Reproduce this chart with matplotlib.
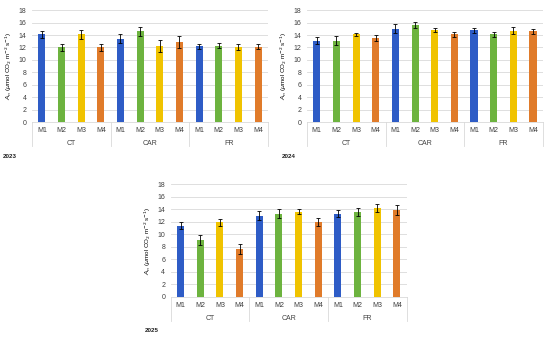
import numpy as np
import matplotlib
import matplotlib.pyplot as plt

matplotlib.use('Agg')

# Data
groups = ["CT", "CAR", "FR"]
methods = ["M1", "M2", "M3", "M4"]

an_2023 = [14.1, 12.0, 14.1, 12.0, 13.4, 14.6, 12.2, 12.9, 12.2, 12.3, 12.1, 12.1]
err_2023 = [0.6, 0.5, 0.7, 0.5, 0.7, 0.7, 1.0, 1.0, 0.4, 0.4, 0.5, 0.4]

an_2024 = [13.1, 13.1, 14.1, 13.5, 15.0, 15.6, 14.8, 14.1, 14.8, 14.1, 14.7, 14.6]
err_2024 = [0.6, 0.7, 0.3, 0.5, 0.7, 0.5, 0.3, 0.4, 0.4, 0.4, 0.6, 0.4]

an_2025 = [11.4, 9.1, 11.9, 7.7, 13.0, 13.3, 13.6, 12.0, 13.3, 13.6, 14.2, 13.9]
err_2025 = [0.5, 0.8, 0.6, 0.8, 0.7, 0.7, 0.4, 0.6, 0.6, 0.6, 0.7, 0.8]

colors = ["#2E5CC6", "#6DB33F", "#F0C300", "#E07B2A"]

plt.rcParams['font.family'] = ['Liberation Sans', 'DejaVu Sans']
plt.rcParams['mathtext.fontset'] = 'dejavusans'

fig = plt.figure(figsize=(5.5, 3.38), dpi=100)


def draw_panel(rect, vals, errs, year, year_xy):
    ax = fig.add_axes(rect)
    n = len(vals)
    x = np.arange(n)
    bar_cols = [colors[i % 4] for i in range(n)]
    ax.bar(x, vals, width=0.36, color=bar_cols, zorder=3)
    ax.errorbar(x, vals, yerr=errs, fmt='none', ecolor='black',
                elinewidth=0.6, capsize=1.2, capthick=0.6, zorder=4,
                clip_on=False)
    ax.set_xlim(-0.5, n - 0.5)
    ax.set_ylim(0, 18)
    ax.set_yticks(np.arange(0, 19, 2))
    ax.tick_params(axis='y', labelsize=5, length=0, pad=4, colors='#404040')
    ax.set_xticks([])
    ax.grid(axis='y', color='#D9D9D9', linewidth=0.6, zorder=0)
    for s in ['top', 'right', 'left']:
        ax.spines[s].set_visible(False)
    ax.spines['bottom'].set_color('#D9D9D9')
    ax.spines['bottom'].set_linewidth(0.6)
    ax.set_ylabel(r'$A_n$ ($\mu$mol CO$_2$ m$^{-2}$ s$^{-1}$)',
                  fontsize=4.5, labelpad=3)

    trans = ax.get_xaxis_transform()
    for i in range(n):
        ax.text(x[i], -0.075, methods[i % 4], transform=trans,
                ha='center', va='center', fontsize=5, color='#404040')
    for g, name in enumerate(groups):
        ax.text(g * 4 + 1.5, -0.19, name, transform=trans,
                ha='center', va='center', fontsize=5, color='#404040')
    for b in range(len(groups) + 1):
        ax.plot([b * 4 - 0.5, b * 4 - 0.5], [0, -0.215], transform=trans,
                color='#D9D9D9', linewidth=0.6, clip_on=False)
    fig.text(year_xy[0], year_xy[1], year, fontsize=4.5, fontweight='bold',
             ha='left', va='center', color='#202020')
    return ax


draw_panel([0.0582, 0.639, 0.429, 0.331], an_2023, err_2023, "2023",
           (0.006, 1 - 156 / 338))
draw_panel([0.558, 0.639, 0.429, 0.331], an_2024, err_2024, "2024",
           (0.512, 1 - 156 / 338))
draw_panel([0.3105, 0.1222, 0.429, 0.3325], an_2025, err_2025, "2025",
           (0.264, 1 - 331 / 338))

fig.savefig("out.png", dpi=100)
